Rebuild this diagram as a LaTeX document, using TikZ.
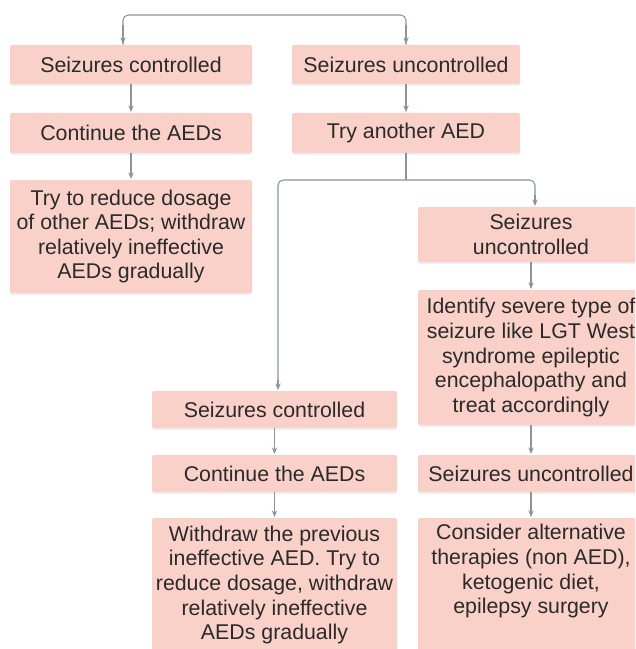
\documentclass[tikz,border=0pt]{standalone}
\usepackage{fontspec}
\setmainfont{Liberation Sans}
\usetikzlibrary{arrows.meta,shadows}
\definecolor{boxfill}{HTML}{F9D1C8}
\definecolor{linegray}{HTML}{8A949B}
\definecolor{txt}{HTML}{2A2A2A}
\begin{document}
\begin{tikzpicture}[x=0.75pt,y=-0.75pt,
  box/.style={rectangle, fill=boxfill, rounded corners=1.5pt, align=center,
    font=\fontsize{16}{18.4}\selectfont, text=txt, inner sep=0pt,
    drop shadow={opacity=0.12, shadow xshift=0pt, shadow yshift=-1.5pt}},
  arr/.style={draw=linegray, line width=0.8pt, -{Stealth[length=5pt,width=4pt]}, shorten >=0.5pt},
  ln/.style={draw=linegray, line width=0.8pt, rounded corners=4pt}]
\clip (0,0) rectangle (635,649);
\fill[white] (0,0) rectangle (635,649);
% left column
\node[box, minimum width=181.5pt, minimum height=29.25pt] (A1) at (131,64.5) {Seizures controlled};
\node[box, minimum width=181.5pt, minimum height=30pt] (A2) at (131,133) {Continue the AEDs};
\node[box, minimum width=181.5pt, minimum height=84.75pt] (A3) at (131,236.5) {Try to reduce dosage\\of other AEDs; withdraw\\relatively ineffective\\AEDs gradually};
% right column
\node[box, minimum width=171pt, minimum height=29.25pt] (B1) at (406,64.5) {Seizures uncontrolled};
\node[box, minimum width=171pt, minimum height=30pt] (B2) at (406,133) {Try another AED};
\node[box, minimum width=169.5pt, minimum height=41.25pt] (B3) at (531,234.5) {Seizures\\uncontrolled};
\node[box, minimum width=169.5pt, minimum height=101.25pt] (B4) at (531,357.5) {Identify severe type of\\seizure like LGT West\\syndrome epileptic\\encephalopathy and\\treat accordingly};
\node[box, minimum width=169.5pt, minimum height=27.75pt] (B5) at (531,473.5) {Seizures uncontrolled};
\node[box, minimum width=169.5pt, minimum height=100.5pt] (B6) at (531,585) {Consider alternative\\therapies (non AED),\\ketogenic diet,\\epilepsy surgery\\\strut};
% middle column
\node[box, minimum width=183.75pt, minimum height=27.75pt] (C1) at (274.5,409.5) {Seizures controlled};
\node[box, minimum width=183.75pt, minimum height=27.75pt] (C2) at (274.5,473.5) {Continue the AEDs};
\node[box, minimum width=183.75pt, minimum height=100.5pt] (C3) at (274.5,585) {Withdraw the previous\\ineffective AED. Try to\\reduce dosage, withdraw\\relatively ineffective\\AEDs gradually};
% connectors
\coordinate (top) at (268,15);
\coordinate (split) at (406,180);
\draw[ln] (top) -| ([xshift=-6pt]A1.north);
\draw[arr] ([xshift=-6pt]A1.north |- 0,25) -- ([xshift=-6pt]A1.north);
\draw[ln] (top) -| (B1.north);
\draw[arr] (B1.north |- 0,25) -- (B1.north);
\draw[arr] (A1) -- (A2);
\draw[arr] (A2) -- (A3);
\draw[arr] (B1) -- (B2);
\draw[ln] (B2.south) -- (split);
\draw[ln] (split) -| (278,380);
\draw[arr] (278,380) -- (C1.north -| 278,0);
\draw[ln] (split) -| (535,195);
\draw[arr] (535,195) -- (B3.north -| 535,0);
\draw[arr] (B3) -- (B4);
\draw[arr] (B4) -- (B5);
\draw[arr] (B5) -- (B6);
\draw[arr] (C1) -- (C2);
\draw[arr] (C2) -- (C3);
\end{tikzpicture}
\end{document}
